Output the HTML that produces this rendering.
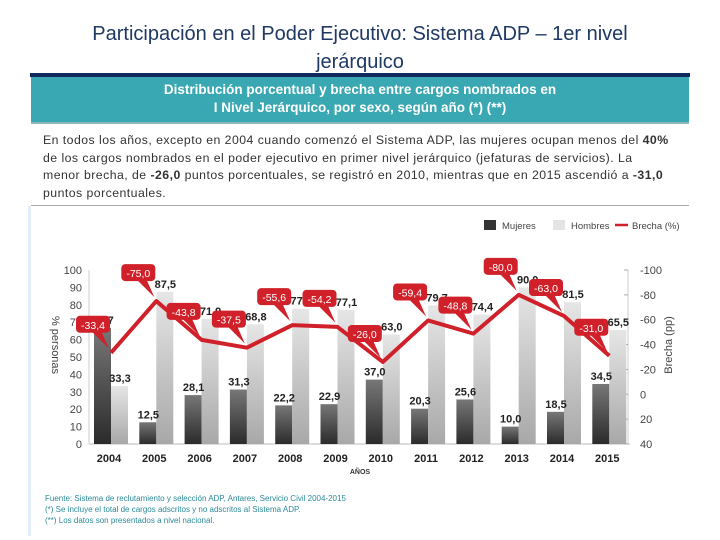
<!DOCTYPE html>
<html><head><meta charset="utf-8"><style>
body{margin:0;width:720px;height:540px;background:#fff;font-family:"Liberation Sans",sans-serif;position:relative;overflow:hidden}
#title{position:absolute;left:0;top:20px;width:720px;text-align:center;color:#1f3864;font-size:20px;line-height:28px}
#rule{position:absolute;left:30px;top:73px;width:660px;height:4px;background:#0f2a5a}
#hdr{position:absolute;left:31px;top:77px;width:658px;height:47px;background:#3aa8b2;color:#fff;font-weight:bold;font-size:13.5px;text-align:center;line-height:18px;padding-top:4px;box-sizing:border-box;border-bottom:2px solid #8fb8bc}
#txt{position:absolute;left:43px;top:132px;width:660px;font-size:12.3px;line-height:17.5px;color:#333;white-space:nowrap;letter-spacing:0.45px}
#sep{position:absolute;left:31px;top:205px;width:658px;height:1px;background:#aaa}
#panel{position:absolute;left:28px;top:206px;width:3px;height:330px;background:#e3eef6}
#foot{position:absolute;left:45px;top:493px;font-size:8px;line-height:11px;color:#2a8a99}
</style></head><body>
<div id="title">Participación en el Poder Ejecutivo: Sistema ADP – 1er nivel<br>jerárquico</div>
<div id="rule"></div>
<div id="hdr">Distribución porcentual y brecha entre cargos nombrados en<br>I Nivel Jerárquico, por sexo, según año (*) (**)</div>
<div id="txt">En todos los años, excepto en 2004 cuando comenzó el Sistema ADP, las mujeres ocupan menos del <b>40%</b><br>de los cargos nombrados en el poder ejecutivo en primer nivel jerárquico (jefaturas de servicios). La<br>menor brecha, de <b>-26,0</b> puntos porcentuales, se registró en 2010, mientras que en 2015 ascendió a <b>-31,0</b><br>puntos porcentuales.</div>
<div id="sep"></div>
<div id="panel"></div>
<svg id="chart" width="720" height="540" style="position:absolute;left:0;top:0">
<defs>
<linearGradient id="gw" x1="0" y1="0" x2="0" y2="1"><stop offset="0" stop-color="#777"/><stop offset="1" stop-color="#2b2b2b"/></linearGradient>
<linearGradient id="gm" x1="0" y1="0" x2="0" y2="1"><stop offset="0" stop-color="#e6e6e6"/><stop offset="1" stop-color="#a8a8a8"/></linearGradient>
</defs>
<g id="g"></g>
</svg>
<div id="foot">Fuente: Sistema de reclutamiento y selección ADP, Antares, Servicio Civil 2004-2015<br>(*) Se incluye el total de cargos adscritos y no adscritos al Sistema ADP.<br>(**) Los datos son presentados a nivel nacional.</div>
<script>
const years=["2004","2005","2006","2007","2008","2009","2010","2011","2012","2013","2014","2015"];
const mujeres=[66.7,12.5,28.1,31.3,22.2,22.9,37.0,20.3,25.6,10.0,18.5,34.5];
const hombres=[33.3,87.5,71.9,68.8,77.8,77.1,63.0,79.7,74.4,90.0,81.5,65.5];
const brecha=[-33.4,-75.0,-43.8,-37.5,-55.6,-54.2,-26.0,-59.4,-48.8,-80.0,-63.0,-31.0];
const leftTicks=[0,10,20,30,40,50,60,70,80,90,100];
const rightTicks=[-100,-80,-60,-40,-20,0,20,40];
const NS="http://www.w3.org/2000/svg";
const g=document.getElementById('g');
const y0=444,y100=270;
const yL=v=>y0-(v/100)*(y0-y100);
const yR=v=>y100+((v+100)/140)*(y0-y100);
const xC=i=>109+i*45.3;
const fmt=v=>v.toFixed(1).replace('.',',');
function el(t,a,txt){const e=document.createElementNS(NS,t);for(const k in a)e.setAttribute(k,a[k]);if(txt!==undefined)e.textContent=txt;g.appendChild(e);return e;}
let e;
e=el('line',{x1:89,y1:y0,x2:630,y2:y0,stroke:'#bbb'});


e=el('line',{x1:89,y1:y100,x2:89,y2:y0,stroke:'#ccc'});


e=el('line',{x1:628,y1:y100,x2:628,y2:y0,stroke:'#ccc'});


leftTicks.forEach(v=>{e=el('text',{x:82,y:yL(v)+4,'text-anchor':'end','font-size':11,fill:'#444'},String(v));

});
rightTicks.forEach(v=>{el('line',{x1:624,y1:yR(v),x2:628,y2:yR(v),stroke:'#aaa'});
e=el('text',{x:640,y:yR(v)+4,'font-size':11,fill:'#444'},String(v));

});
e=el('text',{x:0,y:0,'font-size':11,fill:'#444','text-anchor':'middle',transform:'translate(52,345) rotate(90)'},'% personas');


e=el('text',{x:0,y:0,'font-size':11,fill:'#444','text-anchor':'middle',transform:'translate(672,345) rotate(-90)'},'Brecha (pp)');


e=el('text',{x:360,y:474,'font-size':7,'font-weight':'bold',fill:'#333','text-anchor':'middle'},'AÑOS');


years.forEach((yr,i)=>{const c=xC(i);
e=el('rect',{x:c-15,y:yL(mujeres[i]),width:17,height:y0-yL(mujeres[i]),fill:'url(#gw)'});


e=el('rect',{x:c+2,y:yL(hombres[i]),width:17,height:y0-yL(hombres[i]),fill:'url(#gm)'});


e=el('text',{x:c-6,y:yL(mujeres[i])-4,'font-size':11,'font-weight':'bold',fill:'#222','text-anchor':'middle'},fmt(mujeres[i]));


e=el('text',{x:c+11,y:yL(hombres[i])-4,'font-size':11,'font-weight':'bold',fill:'#222','text-anchor':'middle'},fmt(hombres[i]));


e=el('text',{x:c,y:462,'font-size':11,'font-weight':'bold',fill:'#222','text-anchor':'middle'},yr);


});
const pts=brecha.map((v,i)=>(xC(i)+2)+','+yR(v)).join(' ');
e=el('polyline',{points:pts,fill:'none',stroke:'#d0202a','stroke-width':4,'stroke-linejoin':'round'});


brecha.forEach((v,i)=>{const px=xC(i)+2,py=yR(v),cx=px-18,cy=py-28;
el('polygon',{points:(cx-2)+','+(cy+6)+' '+(cx+8)+','+(cy+6)+' '+(px-2)+','+(py-4),fill:'#d0202a'});
e=el('rect',{x:cx-17,y:cy-9,width:34,height:17,rx:4,fill:'#d0202a'});


e=el('text',{x:cx,y:cy+4,'font-size':10.5,fill:'#fff','text-anchor':'middle'},fmt(v));


});
// legend
e=el('rect',{x:484,y:220,width:12,height:10,fill:'#333'});


e=el('text',{x:502,y:229,'font-size':9.5,fill:'#444'},'Mujeres');


e=el('rect',{x:553,y:220,width:12,height:10,fill:'#e4e4e4'});


e=el('text',{x:571,y:229,'font-size':9.5,fill:'#444'},'Hombres');


e=el('line',{x1:615,y1:225,x2:628,y2:225,stroke:'#d0202a','stroke-width':2.5});


e=el('text',{x:632,y:229,'font-size':9.5,fill:'#444'},'Brecha (%)');


</script>
</body></html>
